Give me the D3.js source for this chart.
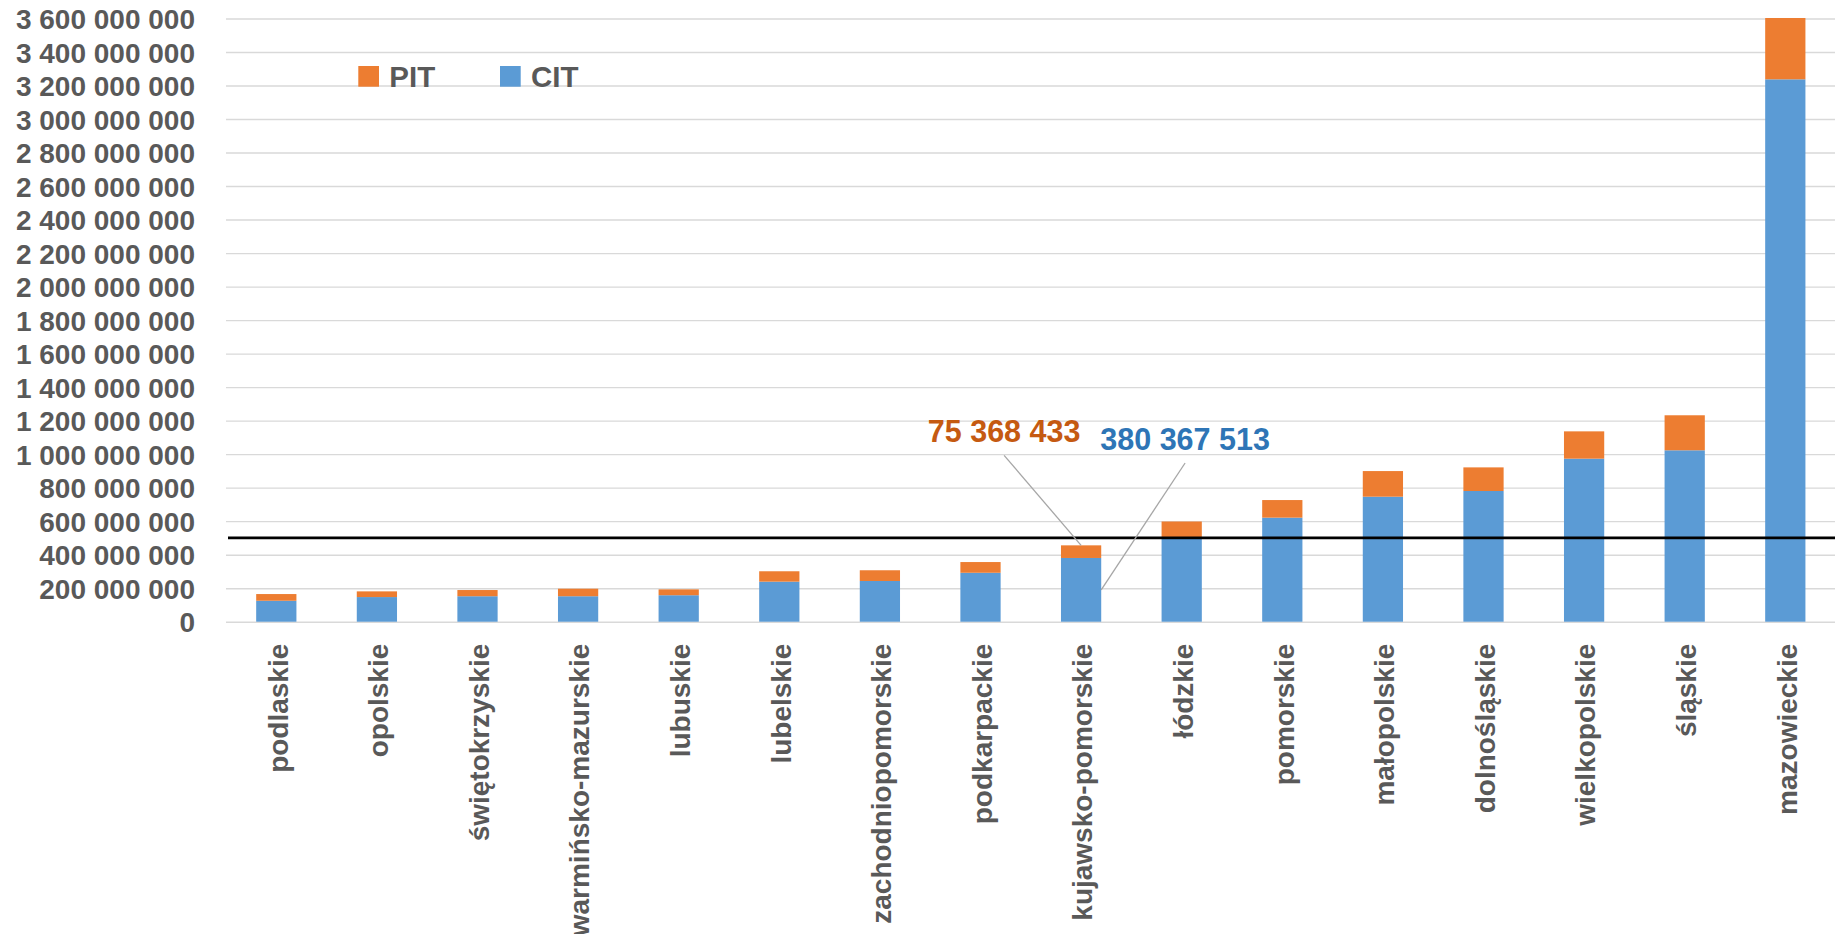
<!DOCTYPE html>
<html>
<head>
<meta charset="utf-8">
<script src="https://cdn.jsdelivr.net/npm/d3@7"></script>
<style>
  html, body { margin: 0; padding: 0; background: #fff; }
  svg { display: block; }
  text { font-family: "Liberation Sans", Arial, sans-serif; font-weight: bold; }
</style>
</head>
<body>
<svg id="chart" width="1835" height="934"></svg>
<script>
// ---- data ----
const categories = ["podlaskie", "opolskie", "świętokrzyskie", "warmińsko-mazurskie", "lubuskie",
  "lubelskie", "zachodniopomorskie", "podkarpackie", "kujawsko-pomorskie", "łódzkie",
  "pomorskie", "małopolskie", "dolnośląskie", "wielkopolskie", "śląskie", "mazowieckie"];
const citValues = [125e6, 147e6, 152e6, 152e6, 158e6, 239e6, 243e6, 292e6, 380367513, 503e6,
  621e6, 746e6, 780e6, 973e6, 1023e6, 3237e6];
const pitValues = [40e6, 34e6, 37e6, 45e6, 35e6, 62e6, 64e6, 64e6, 75368433, 95e6,
  105e6, 153e6, 141e6, 163e6, 209e6, 366e6];
const yTickValues = [0, 2e8, 4e8, 6e8, 8e8, 1e9, 1.2e9, 1.4e9, 1.6e9, 1.8e9, 2e9, 2.2e9, 2.4e9,
  2.6e9, 2.8e9, 3e9, 3.2e9, 3.4e9, 3.6e9];
const yMax = 3.6e9;
const threshold = 500e6;
const seriesNames = ["PIT", "CIT"];
const annotatedCategory = "kujawsko-pomorskie";

// ---- styles / layout ----
const colors = { CIT: "#5B9BD5", PIT: "#ED7D31" };
const labelColors = { CIT: "#2E75B6", PIT: "#C55A11" };
const textGray = "#595959";
const plot = { left: 226, right: 1835.6, top: 18.5, bottom: 621.7 };

const svg = d3.select("#chart");
const x = d3.scaleBand().domain(categories).range([plot.left, plot.right])
  .paddingInner(0.6).paddingOuter(0.3);
const y = d3.scaleLinear().domain([0, yMax]).range([plot.bottom, plot.top]);

const locale = d3.formatLocale({ decimal: ",", thousands: " ", grouping: [3], currency: ["", ""] });
const fmt = locale.format(",d");

// gridlines
const grid = svg.append("g").attr("transform", `translate(${plot.left},0)`)
  .call(d3.axisLeft(y).tickValues(yTickValues).tickSize(-(1835 - plot.left)).tickFormat(""));
grid.select(".domain").remove();
grid.selectAll("line").attr("stroke", "#D9D9D9").attr("stroke-width", 1.4);

// y axis labels
const yAxis = svg.append("g").attr("transform", `translate(195,0)`)
  .call(d3.axisLeft(y).tickValues(yTickValues).tickSize(0).tickPadding(0).tickFormat(fmt));
yAxis.select(".domain").remove();
yAxis.selectAll("text")
  .attr("fill", textGray).attr("font-size", 28).attr("dy", "0.36em")
  .style("font-family", '"Liberation Sans", Arial, sans-serif').style("font-weight", "bold");

// stacked bars
const rows = categories.map((c, i) => ({ cat: c, CIT: citValues[i], PIT: pitValues[i] }));
const stack = d3.stack().keys(["CIT", "PIT"])(rows);
svg.append("g").selectAll("g").data(stack).join("g")
  .attr("fill", d => colors[d.key])
  .selectAll("rect").data(d => d).join("rect")
  .attr("x", d => x(d.data.cat))
  .attr("width", x.bandwidth())
  .attr("y", d => y(d[1]))
  .attr("height", d => y(d[0]) - y(d[1]));

// threshold line
svg.append("line")
  .attr("x1", plot.left + 2).attr("x2", 1835)
  .attr("y1", y(threshold)).attr("y2", y(threshold))
  .attr("stroke", "#000").attr("stroke-width", 2.6);

// x axis labels
const xAxis = svg.append("g").attr("transform", `translate(0,${plot.bottom})`)
  .call(d3.axisBottom(x).tickSize(0).tickPadding(0));
xAxis.select(".domain").remove();
xAxis.selectAll("text")
  .attr("fill", textGray).attr("font-size", 28)
  .attr("transform", "rotate(-90)")
  .attr("text-anchor", "end")
  .attr("x", -22).attr("y", 0).attr("dy", "0.4em")
  .style("font-family", '"Liberation Sans", Arial, sans-serif').style("font-weight", "bold");

// annotations for one category
const ai = categories.indexOf(annotatedCategory);
const cx = x(annotatedCategory) + x.bandwidth() / 2;
const ann = [
  { key: "PIT", value: pitValues[ai], tx: cx - 77, ty: 442.3,
    ex: cx, ey: y(citValues[ai] + pitValues[ai]) },
  { key: "CIT", value: citValues[ai], tx: cx + 104, ty: 450,
    ex: x(annotatedCategory) + x.bandwidth(), ey: y(citValues[ai] / 2) }
];
svg.append("g").selectAll("line").data(ann).join("line")
  .attr("x1", d => d.tx).attr("y1", d => d.ty + 13)
  .attr("x2", d => d.ex).attr("y2", d => d.ey)
  .attr("stroke", "#A6A6A6").attr("stroke-width", 1.3);
svg.append("g").selectAll("text").data(ann).join("text")
  .attr("x", d => d.tx).attr("y", d => d.ty)
  .attr("text-anchor", "middle").attr("font-size", 30.5)
  .attr("fill", d => labelColors[d.key])
  .text(d => fmt(d.value));

// legend
const legendX = [358.3, 500];
const legend = svg.append("g").selectAll("g").data(seriesNames).join("g")
  .attr("transform", (d, i) => `translate(${legendX[i]},66)`);
legend.append("rect").attr("width", 20.7).attr("height", 20.7).attr("fill", d => colors[d]);
legend.append("text").attr("x", 31).attr("y", 20.7).attr("font-size", 29.5)
  .attr("fill", textGray).text(d => d);
</script>
</body>
</html>
